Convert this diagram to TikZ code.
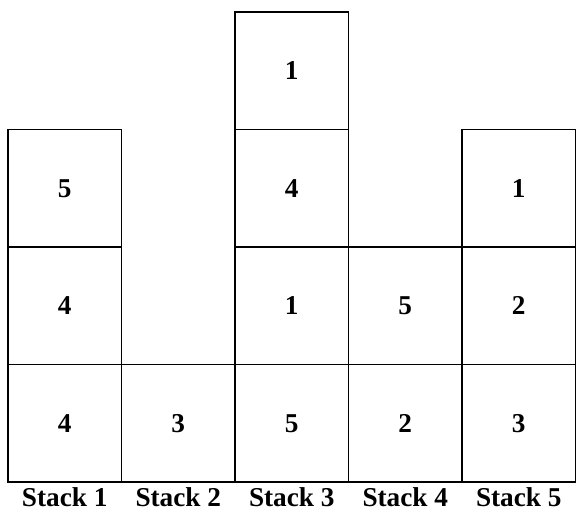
\documentclass[tikz,border=0pt]{standalone}
\usepackage{fontspec}
\setmainfont{Liberation Serif}
\usetikzlibrary{positioning}
\begin{document}
\begin{tikzpicture}[node distance=0cm,
  cell/.style={draw,line width=1.1pt,minimum width=2.27cm,minimum height=2.35cm,inner sep=0pt,outer sep=0pt,font=\fontsize{15.5}{18}\selectfont\bfseries},
  stacklabel/.style={font=\fontsize{15.5}{18}\selectfont\bfseries}]
  \useasboundingbox (0,0) rectangle (11.52,10.24);
  \coordinate (base) at (0,0.3);
  % bottom row
  \node[cell] (a1) at (1.295,1.775) {4};
  \node[cell,right=of a1] (b1) {3};
  \node[cell,right=of b1] (c1) {5};
  \node[cell,right=of c1] (d1) {2};
  \node[cell,right=of d1] (e1) {3};
  % stack 1
  \node[cell,above=of a1] (a2) {4};
  \node[cell,above=of a2] (a3) {5};
  % stack 3
  \node[cell,above=of c1] (c2) {1};
  \node[cell,above=of c2] (c3) {4};
  \node[cell,above=of c3] (c4) {1};
  % stack 4
  \node[cell,above=of d1] (d2) {5};
  % stack 5
  \node[cell,above=of e1] (e2) {2};
  \node[cell,above=of e2] (e3) {1};
  % labels
  \node[stacklabel] (l1) at (a1 |- base) {Stack 1};
  \node[stacklabel] (l2) at (b1 |- base) {Stack 2};
  \node[stacklabel] (l3) at (c1 |- base) {Stack 3};
  \node[stacklabel] (l4) at (d1 |- base) {Stack 4};
  \node[stacklabel] (l5) at (e1 |- base) {Stack 5};
\end{tikzpicture}
\end{document}
